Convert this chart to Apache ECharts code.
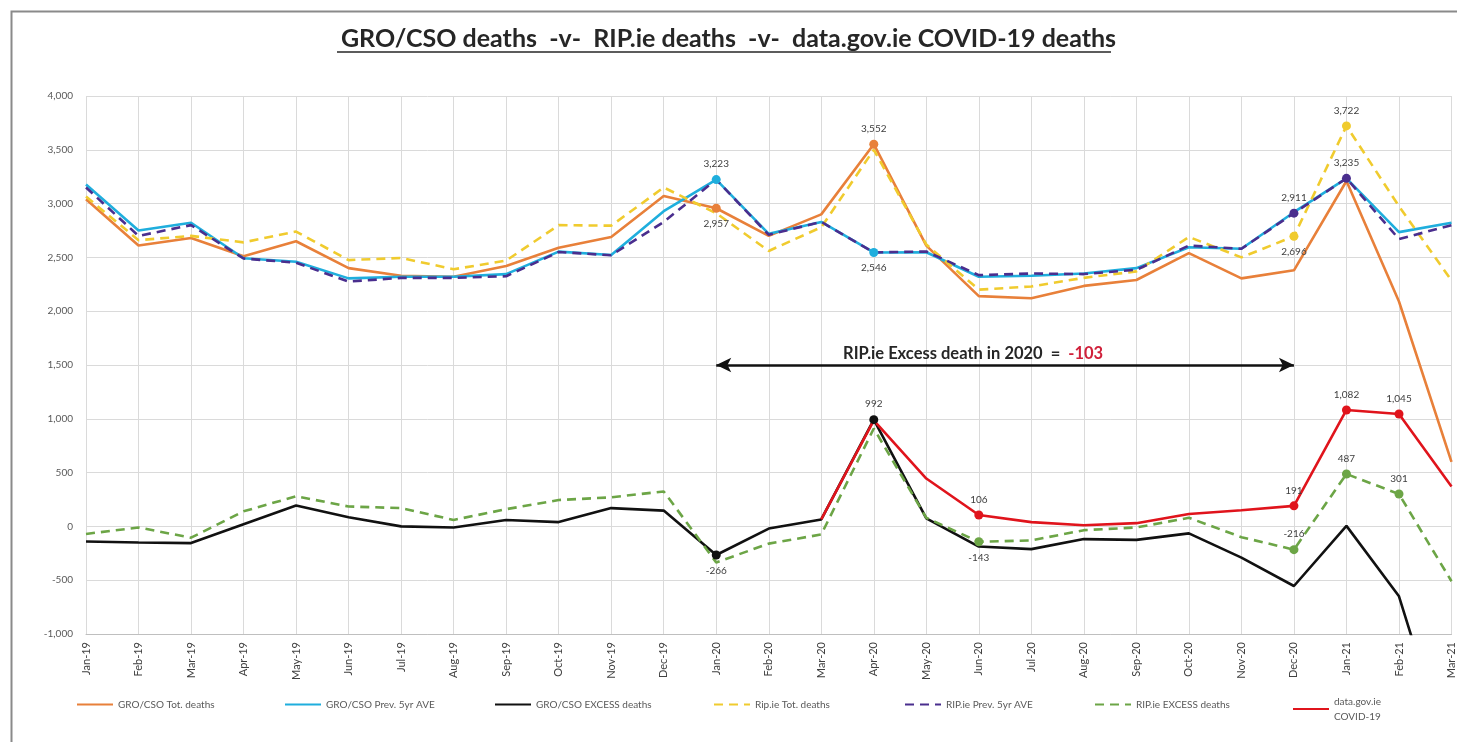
<!DOCTYPE html>
<html>
<head>
<meta charset="utf-8">
<script src="https://cdn.jsdelivr.net/npm/echarts@6/dist/echarts.min.js"></script>
<style>
html,body{margin:0;padding:0;background:#fff;}
#main{width:1457px;height:742px;}
</style>
</head>
<body>
<div id="main"></div>
<script>
const months = ['Jan-19','Feb-19','Mar-19','Apr-19','May-19','Jun-19','Jul-19','Aug-19','Sep-19','Oct-19','Nov-19','Dec-19',
  'Jan-20','Feb-20','Mar-20','Apr-20','May-20','Jun-20','Jul-20','Aug-20','Sep-20','Oct-20','Nov-20','Dec-20',
  'Jan-21','Feb-21','Mar-21'];

const groTot    = [3040,2610,2680,2510,2650,2400,2330,2320,2420,2590,2690,3070, 2957,2700,2900,3552,2610,2140,2120,2235,2290,2540,2305,2380, 3210,2090,600];
const groAvg    = [3178,2750,2822,2492,2460,2305,2320,2320,2345,2554,2523,2930, 3223,2719,2829,2546,2548,2320,2330,2350,2400,2595,2580,2920, 3235,2735,2822];
const groExcess = [-140,-150,-155,20,195,85,0,-10,60,40,170,147, -266,-20,65,992,75,-187,-211,-118,-125,-65,-290,-554, 5,-650,-2220];
const ripTot    = [3065,2660,2700,2640,2740,2475,2495,2390,2470,2800,2795,3150, 2910,2560,2780,3500,2620,2200,2230,2310,2370,2690,2500,2696, 3722,2975,2285];
const ripAvg    = [3150,2700,2800,2490,2450,2275,2310,2310,2325,2550,2520,2830, 3223,2710,2830,2546,2555,2335,2350,2345,2385,2610,2580,2911, 3235,2670,2800];
const ripExcess = [-70,-10,-105,140,280,185,170,60,160,245,270,325, -335,-160,-75,910,80,-143,-130,-35,-10,80,-100,-216, 487,301,-510];
const covid     = [null,null,null,null,null,null,null,null,null,null,null,null, null,null,65,985,445,106,40,10,30,115,150,191, 1082,1045,370];

const yTicks = [-1000,-500,0,500,1000,1500,2000,2500,3000,3500,4000];
const excess2020 = -103;

// points that carry a marker and label: index -> label position
const marks = {
  groTot:    {12:'bottom',15:'top'},
  groAvg:    {12:'top',15:'bottom'},
  groExcess: {12:'bottom',15:'top'},
  ripTot:    {23:'bottom',24:'top'},
  ripAvg:    {23:'top',24:'top'},
  ripExcess: {17:'bottom',23:'top',24:'top',25:'top'},
  covid:     {17:'top',23:'top',24:'top',25:'top'}
};

const fmt = v => Math.round(v).toLocaleString('en-US');
const FONT = 'Lato, "Open Sans", sans-serif';

function build(values, key, color) {
  const m = marks[key] || {};
  return values.map((v, i) => {
    if (v === null) return '-';
    if (m[i]) {
      return {
        value: v, symbol: 'circle', symbolSize: 9,
        itemStyle: {color: color},
        label: {show: true, position: m[i], distance: 6, formatter: p => fmt(p.value),
          fontSize: 10, color: '#404040', fontFamily: FONT}
      };
    }
    return v;
  });
}

function line(name, values, key, color, dashed, extra) {
  return Object.assign({
    name: name, type: 'line', data: build(values, key, color),
    symbol: 'none', showSymbol: true, smooth: false, connectNulls: false,
    lineStyle: {color: color, width: 2.6, type: dashed ? [9, 6] : 'solid'},
    itemStyle: {color: color},
    emphasis: {disabled: true}, animation: false, z: 3
  }, extra || {});
}

const C = {
  groTot: '#E8803A', groAvg: '#1FAEDD', groExcess: '#111111',
  ripTot: '#F0CB2E', ripAvg: '#4A2E8E', ripExcess: '#6CA546', covid: '#E0141C'
};

const series = [
  line('GRO/CSO Tot. deaths', groTot, 'groTot', C.groTot, false),
  line('GRO/CSO Prev. 5yr AVE', groAvg, 'groAvg', C.groAvg, false),
  line('GRO/CSO EXCESS deaths', groExcess, 'groExcess', C.groExcess, false),
  line('Rip.ie Tot. deaths', ripTot, 'ripTot', C.ripTot, true),
  line('RIP.ie Prev. 5yr AVE', ripAvg, 'ripAvg', C.ripAvg, true),
  line('RIP.ie EXCESS deaths', ripExcess, 'ripExcess', C.ripExcess, true, {
    markLine: {
      silent: true, animation: false,
      symbol: ['arrow', 'arrow'], symbolSize: [11, 15],
      lineStyle: {color: '#111', width: 2.5, type: 'solid'},
      label: {
        show: true, position: 'middle', distance: 3,
        formatter: '{a|RIP.ie Excess death in 2020  =  }{b|' + excess2020 + '}',
        rich: {
          a: {fontSize: 16.5, fontWeight: 'bold', color: '#262626', fontFamily: FONT},
          b: {fontSize: 16.5, fontWeight: 'bold', color: '#D0203A', fontFamily: FONT}
        },
        padding: [0, 64, 0, 0]
      },
      data: [[{coord: ['Jan-20', 1500]}, {coord: ['Dec-20', 1500]}]]
    }
  }),
  line('data.gov.ie COVID-19', covid, 'covid', C.covid, false)
];

const legendNames = series.map(s => s.name);
const legendLeft = [76, 284, 494, 713, 904, 1094, 1292];
const legends = legendNames.map((n, i) => ({
  data: [n], left: legendLeft[i], top: i === 6 ? 694 : 697,
  padding: 0,
  itemWidth: 36, itemHeight: 10, itemGap: 4,
  selectedMode: false,
  itemStyle: {opacity: 0},
  formatter: nm => nm === 'data.gov.ie COVID-19' ? 'data.gov.ie\nCOVID-19' : nm,
  textStyle: {fontSize: 10, color: '#595959', fontFamily: FONT, lineHeight: 15}
}));

const chart = echarts.init(document.getElementById('main'), null, {renderer: 'canvas'});
chart.setOption({
  backgroundColor: '#fff',
  animation: false,
  title: {
    text: 'GRO/CSO deaths  -v-  RIP.ie deaths  -v-  data.gov.ie COVID-19 deaths',
    left: 'center', top: 21,
    textStyle: {fontSize: 25, fontWeight: 'bold', color: '#262626', fontFamily: FONT}
  },
  graphic: [
    {type: 'rect', left: 9, top: 9, shape: {width: 1500, height: 760},
     style: {fill: 'none', stroke: '#8a8a8a', lineWidth: 2}, silent: true, z: 0},
    {type: 'line', shape: {x1: 337, y1: 52, x2: 1111, y2: 52},
     style: {stroke: '#262626', lineWidth: 1.5}, silent: true}
  ],
  legend: legends,
  grid: {left: 86, right: 5, top: 96, bottom: 108, containLabel: false},
  xAxis: {
    type: 'category', data: months, boundaryGap: false,
    axisLine: {show: true, onZero: false, lineStyle: {color: '#BFBFBF'}},
    axisTick: {show: false},
    axisLabel: {rotate: 90, interval: 0, margin: 8, fontSize: 11, color: '#404040', fontFamily: FONT},
    splitLine: {show: true, lineStyle: {color: '#DADADA', width: 1}}
  },
  yAxis: {
    type: 'value', min: yTicks[0], max: yTicks[yTicks.length - 1], interval: 500,
    axisLine: {show: false}, axisTick: {show: false},
    axisLabel: {margin: 13, fontSize: 10, color: '#595959', fontFamily: FONT, formatter: v => fmt(v)},
    splitLine: {show: true, lineStyle: {color: '#DADADA', width: 1}}
  },
  series: series
});
</script>
</body>
</html>
